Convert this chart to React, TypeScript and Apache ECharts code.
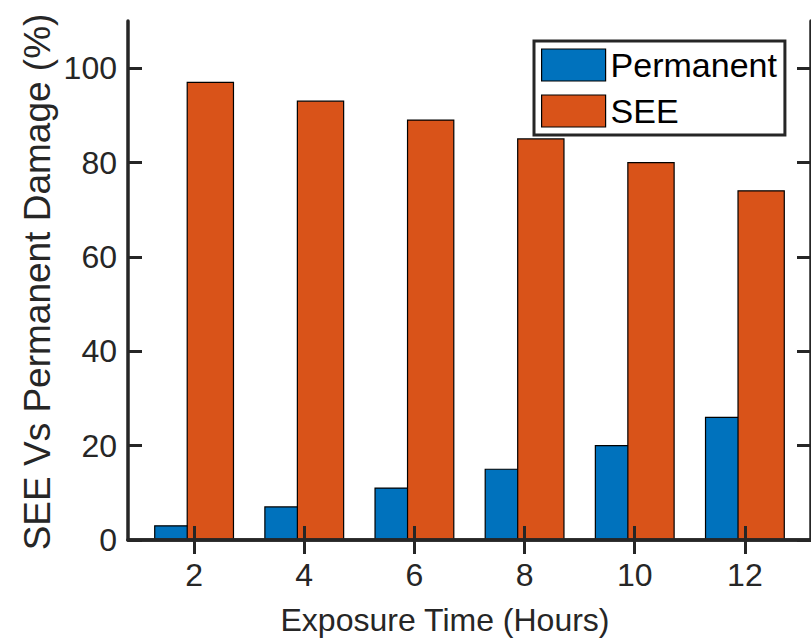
import React, { useEffect, useRef } from "react";
import * as echarts from "echarts";

const hours = [2, 4, 6, 8, 10, 12];
const permanent = [3, 7, 11, 15, 20, 26];
const see = [97, 93, 89, 85, 80, 74];
const yTicks = [0, 20, 40, 60, 80, 100];

const AX = "#262626";
const FONT = "Liberation Sans, Arial, Helvetica, sans-serif";

function barRenderer(offset: number, halfWidth: number, color: string) {
  return (params: any, api: any) => {
    const x = api.value(0);
    const y = api.value(1);
    const p0 = api.coord([x + offset - halfWidth, y]);
    const p1 = api.coord([x + offset + halfWidth, 0]);
    return {
      type: "rect",
      shape: { x: p0[0], y: p0[1], width: p1[0] - p0[0], height: p1[1] - p0[1] },
      style: { fill: color, stroke: "#000", lineWidth: 1.2 },
    };
  };
}

export default function App() {
  const ref = useRef<HTMLDivElement>(null);
  useEffect(() => {
    const chart = echarts.init(ref.current!, null, { renderer: "svg" });
    const axisCommon = {
      axisLine: { show: true, lineStyle: { color: AX, width: 3.5 } },
      axisTick: { show: true, inside: true, length: 14, lineStyle: { color: AX, width: 3 } },
      splitLine: { show: false },
      z: 10,
    };
    chart.setOption({
      animation: false,
      grid: { left: 128, top: 21, width: 693, height: 519 },
      xAxis: [
        {
          type: "value",
          min: 0.8,
          max: 13.2,
          position: "bottom",
          ...axisCommon,
          axisTick: { ...axisCommon.axisTick, customValues: hours },
          axisLabel: {
            customValues: hours,
            color: AX,
            fontSize: 32,
            fontFamily: FONT,
            margin: 19,
          },
        },
        {
          type: "value",
          min: 0.8,
          max: 13.2,
          position: "top",
          ...axisCommon,
          axisTick: { ...axisCommon.axisTick, customValues: hours },
          axisLabel: { show: false },
        },
      ],
      yAxis: [
        {
          type: "value",
          min: 0,
          max: 110,
          position: "left",
          ...axisCommon,
          axisTick: { ...axisCommon.axisTick, customValues: yTicks },
          axisLabel: {
            customValues: yTicks,
            color: AX,
            fontSize: 32,
            fontFamily: FONT,
            margin: 11,
          },
        },
        {
          type: "value",
          min: 0,
          max: 110,
          position: "right",
          ...axisCommon,
          axisTick: { ...axisCommon.axisTick, customValues: yTicks },
          axisLabel: { show: false },
        },
      ],
      legend: {
        orient: "vertical",
        left: 534,
        top: 41,
        padding: [7, 8, 7, 7],
        itemWidth: 64,
        itemHeight: 32,
        itemGap: 12,
        borderColor: AX,
        borderWidth: 3,
        backgroundColor: "#fff",
        itemStyle: { borderColor: "#000", borderWidth: 1.2 },
        textStyle: { fontSize: 34, fontFamily: FONT, color: "#000", lineHeight: 32 },
        data: [
          { name: "Permanent", icon: "rect" },
          { name: "SEE", icon: "rect" },
        ],
      },
      graphic: [
        {
          type: "text",
          x: 445,
          y: 620,
          style: {
            text: "Exposure Time (Hours)",
            fontSize: 32,
            fontFamily: FONT,
            fill: AX,
            textAlign: "center",
            textVerticalAlign: "middle",
          },
        },
        {
          type: "text",
          x: 37,
          y: 282,
          rotation: Math.PI / 2,
          style: {
            text: "SEE Vs Permanent Damage (%)",
            fontSize: 37,
            fontFamily: FONT,
            fill: AX,
            textAlign: "center",
            textVerticalAlign: "middle",
          },
        },
      ],
      series: [
        {
          name: "Permanent",
          type: "custom",
          color: "#0072BD",
          itemStyle: { color: "#0072BD" },
          renderItem: barRenderer(-0.295, 0.42, "#0072BD"),
          encode: { x: 0, y: 1 },
          data: hours.map((h, i) => [h, permanent[i]]),
          z: 2,
        },
        {
          name: "SEE",
          type: "custom",
          color: "#D95319",
          itemStyle: { color: "#D95319" },
          renderItem: barRenderer(0.295, 0.42, "#D95319"),
          encode: { x: 0, y: 1 },
          data: hours.map((h, i) => [h, see[i]]),
          z: 3,
        },
      ],
    });
    return () => chart.dispose();
  }, []);
  return (
    <div
      ref={ref}
      style={{ position: "fixed", left: 0, top: 0, width: 811, height: 641, background: "#fff" }}
    />
  );
}
